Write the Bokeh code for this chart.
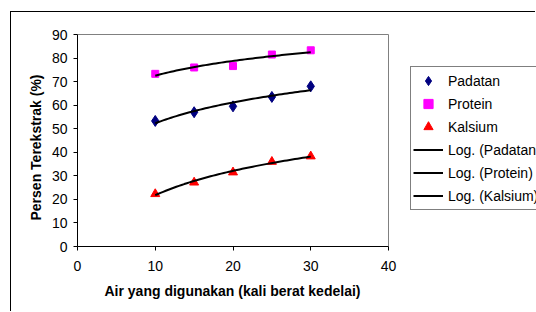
import numpy as np
from bokeh.plotting import figure
from bokeh.models import Range1d, Legend, LegendItem, Title
from bokeh.embed import file_html
from bokeh.resources import INLINE

# Data
air = [10, 15, 20, 25, 30]
padatan = [53.3, 57.0, 59.5, 63.5, 68.0]
protein = [73.3, 76.0, 76.6, 81.5, 83.3]
kalsium = [22.3, 27.2, 31.5, 36.0, 38.3]
series_names = ["Padatan", "Protein", "Kalsium"]
x_ticks = [0, 10, 20, 30, 40]
y_ticks = [0, 10, 20, 30, 40, 50, 60, 70, 80, 90]
x_title = "Air yang digunakan (kali berat kedelai)"
y_title = "Persen Terekstrak (%)"

FONT = "Liberation Sans"

# layout (pixels): plot area 311 x 212, frame extended to hold the legend
FRAME_W, PLOT_W = 459, 311
FRAME_H, PLOT_H = 222, 212
x_end = x_ticks[-1] * FRAME_W / PLOT_W
y_end = y_ticks[-1] * FRAME_H / PLOT_H

p = figure(width=525, height=300, output_backend="svg", toolbar_location=None,
           x_range=Range1d(x_ticks[0], x_end), y_range=Range1d(y_ticks[0], y_end),
           min_border_left=66, min_border_right=0, min_border_top=12, min_border_bottom=66)
p.styles = {"margin-left": "10px", "margin-top": "11px",
            "border-left": "1px solid black", "border-top": "1px solid black"}

p.xgrid.visible = False
p.ygrid.visible = False
p.outline_line_color = None

# gray top and right edges of the plot area
p.segment(x0=[x_ticks[0], x_ticks[-1]], y0=[y_ticks[-1], y_ticks[0]],
          x1=[x_ticks[-1], x_ticks[-1]], y1=[y_ticks[-1], y_ticks[-1]],
          line_color="#808080", line_width=1)

for ax in (p.xaxis[0], p.yaxis[0]):
    ax.axis_line_color = "black"
    ax.major_tick_line_color = "black"
    ax.major_tick_out = 4
    ax.major_tick_in = 0
    ax.minor_tick_line_color = None
    ax.major_label_text_font = FONT
    ax.major_label_text_font_size = "14px"
    ax.major_label_text_color = "black"

p.xaxis.ticker = x_ticks
p.yaxis.ticker = y_ticks
p.xaxis.bounds = (x_ticks[0], x_ticks[-1])
p.yaxis.bounds = (y_ticks[0], y_ticks[-1])
p.xaxis.major_label_standoff = 10
p.yaxis.major_label_standoff = 6

# axis titles, centred on the plot area (not the extended frame)
tx = Title(text=x_title, align="left", offset=27, standoff=14,
           text_font=FONT, text_font_size="14px", text_font_style="bold", text_color="black")
p.add_layout(tx, "below")
ty = Title(text=y_title, align="left", offset=26, standoff=10,
           text_font=FONT, text_font_size="14px", text_font_style="bold", text_color="black")
p.add_layout(ty, "left")

r_pad = p.scatter(air, padatan, marker="diamond", size=11, color="#000080")
r_pro = p.scatter(air, protein, marker="square", size=7, color="#FF00FF")
r_kal = p.scatter(air, kalsium, marker="triangle", size=9, color="#FF0000")

# logarithmic trendlines fitted to the data
xs = np.linspace(min(air), max(air), 60)
trend_renderers = []
for ys in (padatan, protein, kalsium):
    b, a = np.polyfit(np.log(air), ys, 1)
    r = p.line(xs, a + b * np.log(xs), line_color="black", line_width=2)
    trend_renderers.append(r)

items = [LegendItem(label=series_names[0], renderers=[r_pad]),
         LegendItem(label=series_names[1], renderers=[r_pro]),
         LegendItem(label=series_names[2], renderers=[r_kal])]
for name, r in zip(series_names, trend_renderers):
    items.append(LegendItem(label="Log. (" + name + ")", renderers=[r]))

legend = Legend(items=items, location=(333, 36))
legend.border_line_color = "black"
legend.border_line_width = 1
legend.background_fill_alpha = 1
legend.padding = 2
legend.spacing = 0
legend.margin = 0
legend.label_height = 23
legend.glyph_height = 23
legend.glyph_width = 30
legend.label_standoff = 5
legend.label_text_font = FONT
legend.label_text_font_size = "14px"
legend.label_text_color = "black"
p.add_layout(legend, "center")

open("out.html", "w").write(file_html(p, INLINE))
